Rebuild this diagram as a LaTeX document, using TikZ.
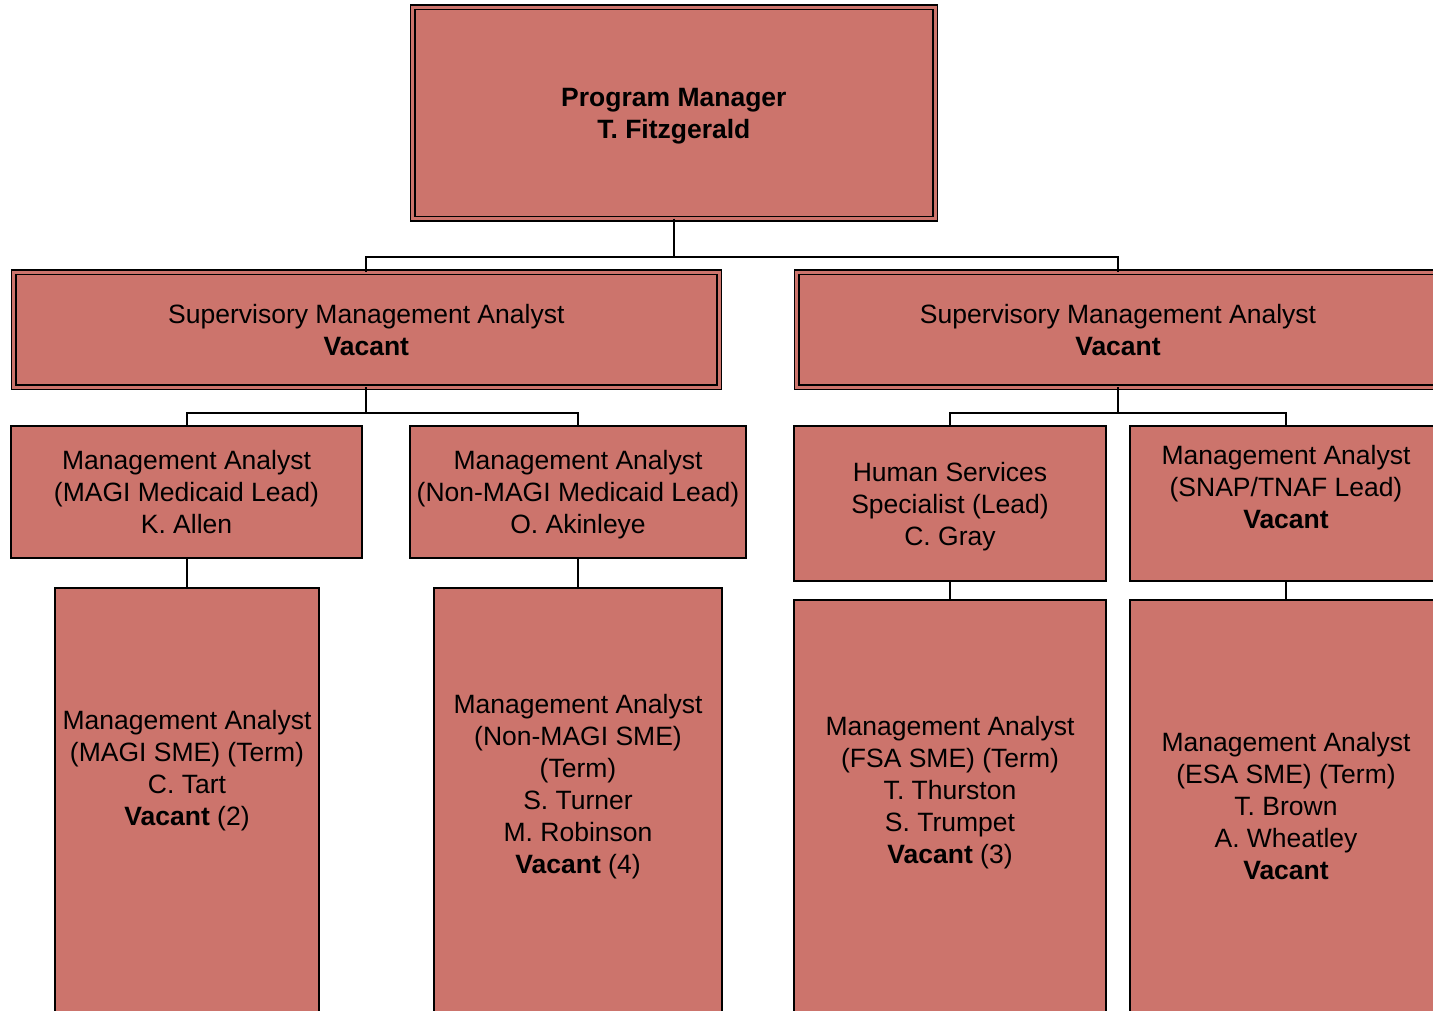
\documentclass[tikz,border=0pt]{standalone}
\usepackage{fontspec}
\setmainfont{Liberation Sans}
\definecolor{boxfill}{RGB}{204,116,108}
\newcommand\lnstrut{\rule[-6.5pt]{0pt}{32pt}}
\tikzset{
  sbox/.style={draw=black, line width=2pt, fill=boxfill, rectangle, inner sep=0pt, outer sep=0pt, anchor=north west, align=center, font=\fontsize{26.5}{32}\selectfont},
  dbox/.style={sbox, line width=1.5pt, double=boxfill, double distance=3pt},
  txt/.style={inner sep=0pt, align=center, font=\fontsize{26.5}{32}\selectfont},
  conn/.style={draw=black, line width=2pt}
}
\begin{document}
\begin{tikzpicture}[x=1pt,y=-1pt]
\useasboundingbox (0,0) rectangle (1433,1011);
\clip (0,0) rectangle (1433,1011);
% level 1
\node[dbox, minimum width=522.25pt, minimum height=211.25pt] (top) at (412.75,7.5) {\lnstrut\textbf{Program Manager}\\\lnstrut\textbf{T. Fitzgerald}};
% level 2
\node[dbox, minimum width=705.7pt, minimum height=114.5pt] (s1) at (13.5,272.5) {\lnstrut Supervisory Management Analyst\\\lnstrut\textbf{Vacant}};
\node[dbox, minimum width=643pt, minimum height=114.5pt] (s2) at (796.5,272.5) {\lnstrut Supervisory Management Analyst\\\lnstrut\textbf{Vacant}};
% level 3
\node[sbox, minimum width=351pt, minimum height=131.5pt] (l1) at (11,426) {\lnstrut Management Analyst\\\lnstrut(MAGI Medicaid Lead)\\\lnstrut K. Allen};
\node[sbox, minimum width=336pt, minimum height=131.5pt] (l2) at (410,426) {\lnstrut Management Analyst\\\lnstrut(Non-MAGI Medicaid Lead)\\\lnstrut O. Akinleye};
\node[sbox, minimum width=312pt, minimum height=155pt] (l3) at (794,426) {\lnstrut Human Services\\\lnstrut Specialist (Lead)\\\lnstrut C. Gray};
\node[sbox, minimum width=312pt, minimum height=155pt] (l4) at (1130,426) {};
\node[txt] (l4t) at (1286,487) {\lnstrut Management Analyst\\\lnstrut(SNAP/TNAF Lead)\\\lnstrut\textbf{Vacant}};
% level 4
\node[sbox, minimum width=264pt, minimum height=442pt] (b1) at (55,588) {};
\node[sbox, minimum width=288pt, minimum height=442pt] (b2) at (434,588) {};
\node[sbox, minimum width=312pt, minimum height=430pt] (b3) at (794,600) {};
\node[sbox, minimum width=312pt, minimum height=430pt] (b4) at (1130,600) {};
\node[txt] (b1t) at (187,768) {\lnstrut Management Analyst\\\lnstrut(MAGI SME) (Term)\\\lnstrut C. Tart\\\lnstrut\textbf{Vacant} (2)};
\node[txt] (b2t) at (578,784) {\lnstrut Management Analyst\\\lnstrut(Non-MAGI SME)\\\lnstrut(Term)\\\lnstrut S. Turner\\\lnstrut M. Robinson\\\lnstrut\textbf{Vacant} (4)};
\node[txt] (b3t) at (950,790) {\lnstrut Management Analyst\\\lnstrut(FSA SME) (Term)\\\lnstrut T. Thurston\\\lnstrut S. Trumpet\\\lnstrut\textbf{Vacant} (3)};
\node[txt] (b4t) at (1286,806) {\lnstrut Management Analyst\\\lnstrut(ESA SME) (Term)\\\lnstrut T. Brown\\\lnstrut A. Wheatley\\\lnstrut\textbf{Vacant}};
% connectors
\draw[conn] (top.south) -- ++(0,38.25) coordinate (j1) -| (s1.north);
\draw[conn] (j1) -| (s2.north);
\draw[conn] (s1.south) -- ++(0,26) coordinate (j2) -| (l1.north);
\draw[conn] (j2) -| (l2.north);
\draw[conn] (s2.south) -- ++(0,26) coordinate (j3) -| (l3.north);
\draw[conn] (j3) -| (l4.north);
\draw[conn] (l1.south) -- (l1.south |- b1.north);
\draw[conn] (l2.south) -- (l2.south |- b2.north);
\draw[conn] (l3.south) -- (l3.south |- b3.north);
\draw[conn] (l4.south) -- (l4.south |- b4.north);
\end{tikzpicture}
\end{document}
